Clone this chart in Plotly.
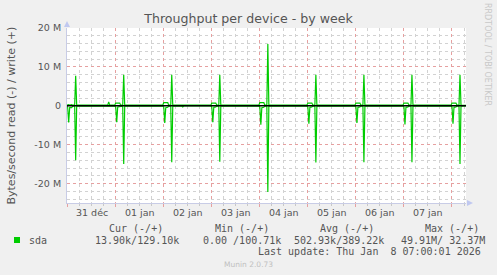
import plotly.graph_objects as go

# ---------------- data (MB/s) ----------------
times = [
    "2025-12-30 23:30", "2025-12-31 00:00", "2025-12-31 00:30", "2025-12-31 01:00", "2025-12-31 02:00",
    "2025-12-31 02:30", "2025-12-31 03:30", "2025-12-31 04:00", "2025-12-31 04:30",
    "2025-12-31 20:00", "2025-12-31 20:30", "2025-12-31 21:00",
    "2025-12-31 23:30", "2026-01-01 00:00", "2026-01-01 00:30", "2026-01-01 01:00", "2026-01-01 02:00",
    "2026-01-01 02:30", "2026-01-01 03:30", "2026-01-01 04:00", "2026-01-01 04:30",
    "2026-01-01 23:30", "2026-01-02 00:00", "2026-01-02 00:30", "2026-01-02 01:00", "2026-01-02 02:00",
    "2026-01-02 02:30", "2026-01-02 03:30", "2026-01-02 04:00", "2026-01-02 04:30",
    "2026-01-02 09:00", "2026-01-02 09:30", "2026-01-02 10:00",
    "2026-01-02 23:30", "2026-01-03 00:00", "2026-01-03 00:30", "2026-01-03 01:00", "2026-01-03 02:00",
    "2026-01-03 02:30", "2026-01-03 03:30", "2026-01-03 04:00", "2026-01-03 04:30",
    "2026-01-03 23:30", "2026-01-04 00:00", "2026-01-04 00:30", "2026-01-04 01:00", "2026-01-04 02:00",
    "2026-01-04 02:30", "2026-01-04 03:30", "2026-01-04 04:00", "2026-01-04 04:30",
    "2026-01-04 23:30", "2026-01-05 00:00", "2026-01-05 00:30", "2026-01-05 01:00", "2026-01-05 02:00",
    "2026-01-05 02:30", "2026-01-05 03:30", "2026-01-05 04:00", "2026-01-05 04:30",
    "2026-01-05 23:30", "2026-01-06 00:00", "2026-01-06 00:30", "2026-01-06 01:00", "2026-01-06 02:00",
    "2026-01-06 02:30", "2026-01-06 03:30", "2026-01-06 04:00", "2026-01-06 04:30",
    "2026-01-06 23:30", "2026-01-07 00:00", "2026-01-07 00:30", "2026-01-07 01:00", "2026-01-07 02:00",
    "2026-01-07 02:30", "2026-01-07 03:30", "2026-01-07 04:00", "2026-01-07 04:30",
    "2026-01-07 23:30", "2026-01-08 00:00", "2026-01-08 00:30", "2026-01-08 01:00", "2026-01-08 02:00",
    "2026-01-08 02:30", "2026-01-08 03:30", "2026-01-08 04:00", "2026-01-08 04:30",
    "2026-01-08 07:00",
]
write_mb = [
    0.15, 0.3, 0.3, 0.2, 0.3, 0.15, 0.15, 7.7, 0.15,
    0.15, 1.0, 0.15,
    0.15, 0.7, 0.7, 0.7, 0.7, 0.15, 0.15, 8.0, 0.15,
    0.15, 0.8, 0.8, 0.8, 0.8, 0.15, 0.15, 8.0, 0.15,
    0.15, 0.15, 0.15,
    0.15, 0.7, 0.7, 0.7, 0.7, 0.15, 0.15, 8.0, 0.15,
    0.15, 0.8, 0.8, 0.8, 0.8, 0.15, 0.15, 15.9, 0.15,
    0.15, 0.7, 0.7, 0.7, 0.7, 0.15, 0.15, 8.0, 0.15,
    0.15, 0.7, 0.7, 0.7, 0.7, 0.15, 0.15, 8.0, 0.15,
    0.15, 0.7, 0.7, 0.7, 0.7, 0.15, 0.15, 8.0, 0.15,
    0.15, 0.7, 0.7, 0.7, 0.7, 0.15, 0.15, 8.0, 0.15,
    0.13,
]
read_mb = [
    0.05, 0.3, 4.3, 0.5, 0.5, 0.1, 0.1, 14.0, 0.1,
    0.05, 0.05, 0.05,
    0.05, 0.3, 4.2, 0.3, 0.2, 0.05, 0.1, 15.0, 0.1,
    0.05, 0.3, 4.4, 0.5, 0.4, 0.05, 0.1, 14.5, 0.1,
    0.05, 0.3, 0.05,
    0.05, 0.3, 4.2, 0.4, 0.3, 0.05, 0.1, 14.4, 0.1,
    0.05, 0.3, 4.9, 0.5, 0.4, 0.05, 0.1, 22.2, 0.1,
    0.05, 0.3, 4.6, 0.4, 0.3, 0.05, 0.1, 14.6, 0.1,
    0.05, 0.3, 4.4, 0.4, 0.3, 0.05, 0.1, 14.5, 0.1,
    0.05, 0.3, 4.8, 0.4, 0.3, 0.05, 0.1, 14.5, 0.1,
    0.05, 0.3, 4.6, 0.4, 0.3, 0.05, 0.1, 15.0, 0.1,
    0.014,
]

day_ticks = ["2025-12-31", "2026-01-01", "2026-01-02", "2026-01-03", "2026-01-04",
             "2026-01-05", "2026-01-06", "2026-01-07", "2026-01-08"]
day_label_pos = ["2025-12-31 12:00", "2026-01-01 12:00", "2026-01-02 12:00", "2026-01-03 12:00",
                 "2026-01-04 12:00", "2026-01-05 12:00", "2026-01-06 12:00", "2026-01-07 12:00"]
day_labels = ["31 déc", "01 jan", "02 jan", "03 jan", "04 jan", "05 jan", "06 jan", "07 jan"]

y_tickvals = [-20e6, -10e6, 0, 10e6, 20e6]
y_ticktext = ["-20 M", "-10 M", "0", "10 M", "20 M"]

legend_headers = ["Cur (-/+)", "Min (-/+)", "Avg (-/+)", "Max (-/+)"]
legend_values = ["13.90k/129.10k", "0.00 /100.71k", "502.93k/389.22k", "49.91M/ 32.37M"]
series_name = "sda"
last_update = "Last update: Thu Jan  8 07:00:01 2026"

# ---------------- geometry ----------------
W, H = 497, 275
L, R, T, B = 67, 466, 28, 203
PW, PH = R - L, B - T


def px(x):
    return (x - L) / PW


def py(y):
    return (B - y) / PH


GREEN = "#00cc00"
TXT = "#555555"
SANS = "DejaVu Sans"
MONO = "DejaVu Sans Mono"

fig = go.Figure()
fig.add_trace(go.Scatter(x=times, y=[v * 1e6 for v in write_mb], mode="lines",
                         line=dict(color=GREEN, width=1.2), hoverinfo="skip"))
fig.add_trace(go.Scatter(x=times, y=[-v * 1e6 for v in read_mb], mode="lines",
                         line=dict(color=GREEN, width=1.2), hoverinfo="skip"))

fig.update_layout(
    width=W, height=H,
    margin=dict(l=L, r=W - R, t=T, b=H - B, pad=0),
    paper_bgcolor="#f0f0f0", plot_bgcolor="#ffffff",
    showlegend=False,
    title=dict(text="Throughput per device - by week", x=0.5, xref="container", xanchor="center",
               y=1 - 19 / H, yref="container", yanchor="middle",
               font=dict(family=SANS, size=12.6, color=TXT)),
    xaxis=dict(
        type="date", range=["2025-12-30 23:40", "2026-01-08 07:00"],
        tickmode="array", tickvals=day_ticks, ticktext=[""] * len(day_ticks),
        showgrid=True, gridcolor="#e6a0a0", griddash="dot", gridwidth=1,
        ticks="outside", ticklen=3, tickcolor="#e6a0a0",
        showline=True, linecolor="#c8cce6", linewidth=1, zeroline=False,
        minor=dict(dtick=6 * 3600 * 1000, showgrid=True, gridcolor="#d2d2d2", griddash="dot",
                   ticks="outside", ticklen=2, tickcolor="#c8c8c8"),
    ),
    yaxis=dict(
        range=[-25e6, 20e6],
        tickmode="array", tickvals=y_tickvals, ticktext=y_ticktext,
        tickfont=dict(family=SANS, size=9.5, color=TXT),
        showgrid=True, gridcolor="#e6a0a0", griddash="dot", gridwidth=1,
        ticks="outside", ticklen=3, tickcolor="rgba(0,0,0,0)",
        showline=True, linecolor="#c8cce6", linewidth=1, zeroline=False,
        minor=dict(dtick=2e6, showgrid=True, gridcolor="#d2d2d2", griddash="dot"),
    ),
)

shapes = [
    # zero line above traces
    dict(type="line", xref="paper", yref="y", x0=0, x1=1, y0=0, y1=0, layer="above",
         line=dict(color="#000000", width=1.6)),
    # axis arrows
    dict(type="path", xref="paper", yref="paper", layer="above",
         path=f"M {px(64)} {py(27)} L {px(70)} {py(27)} L {px(67)} {py(21)} Z",
         fillcolor="#c0c8f0", line=dict(width=0)),
    dict(type="path", xref="paper", yref="paper", layer="above",
         path=f"M {px(467)} {py(200)} L {px(467)} {py(206)} L {px(473)} {py(203)} Z",
         fillcolor="#c0c8f0", line=dict(width=0)),
    # legend swatch
    dict(type="rect", xref="paper", yref="paper", x0=px(14), x1=px(20), y0=py(243), y1=py(237),
         fillcolor=GREEN, line=dict(width=0)),
]
fig.update_layout(shapes=shapes)

ann = []
for pos, lab in zip(day_label_pos, day_labels):
    ann.append(dict(x=pos, xref="x", y=py(212), yref="paper", text=lab, showarrow=False,
                    xanchor="center", yanchor="middle", font=dict(family=SANS, size=9.5, color=TXT)))

ann.append(dict(x=px(11), xref="paper", y=py(115.5), yref="paper",
                text="Bytes/second read (-) / write (+)", textangle=-90, showarrow=False,
                xanchor="center", yanchor="middle", font=dict(family=SANS, size=11, color=TXT)))

ann.append(dict(x=px(488), xref="paper", y=py(54), yref="paper",
                text="RRDTOOL / TOBI OETIKER", textangle=90, showarrow=False,
                xanchor="center", yanchor="middle", font=dict(family=SANS, size=8, color="#c8c8c8")))

for xpos, txt in zip([107, 213, 318, 423], legend_headers):
    ann.append(dict(x=px(xpos), xref="paper", y=py(228), yref="paper", text=txt, showarrow=False,
                    xanchor="left", yanchor="middle", font=dict(family=MONO, size=10, color=TXT)))

ann.append(dict(x=px(27), xref="paper", y=py(240), yref="paper", text=series_name, showarrow=False,
                xanchor="left", yanchor="middle", font=dict(family=MONO, size=10, color=TXT)))
for xpos, txt in zip([93, 201, 292, 399], legend_values):
    ann.append(dict(x=px(xpos), xref="paper", y=py(240), yref="paper", text=txt.replace(" ", "\u00a0"),
                    showarrow=False, xanchor="left", yanchor="middle",
                    font=dict(family=MONO, size=10, color=TXT)))

ann.append(dict(x=px(483), xref="paper", y=py(251.5), yref="paper", text=last_update.replace(" ", "\u00a0"),
                showarrow=False, xanchor="right", yanchor="middle", font=dict(family=MONO, size=10, color=TXT)))

ann.append(dict(x=px(248), xref="paper", y=py(264), yref="paper", text="Munin 2.0.73",
                showarrow=False, xanchor="center", yanchor="middle", font=dict(family=SANS, size=7.5, color="#c0c0c0")))

fig.update_layout(annotations=ann)

fig.write_html("out.html")
